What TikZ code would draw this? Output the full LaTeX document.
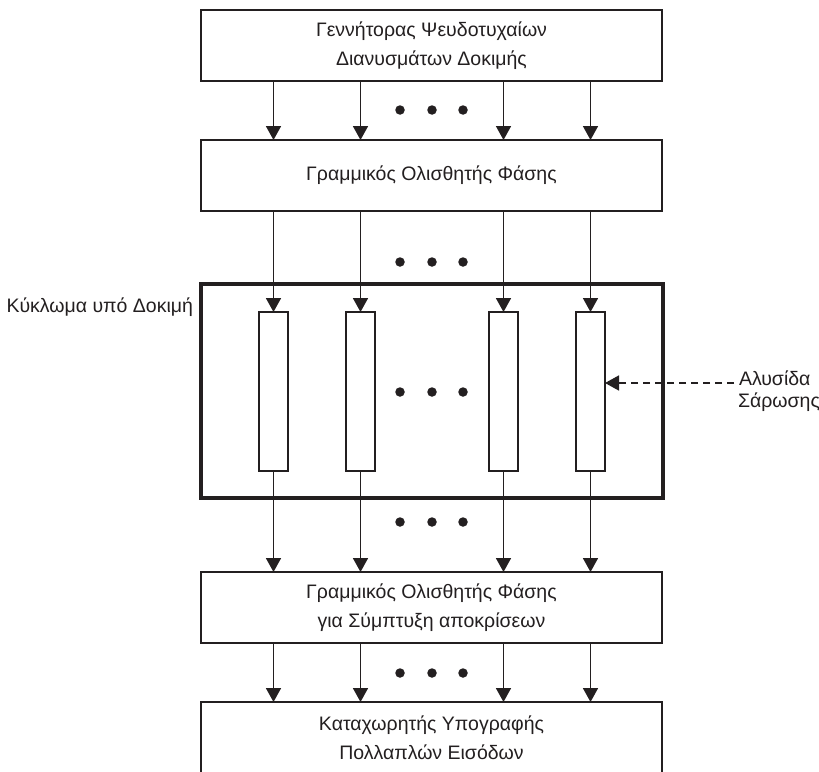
\documentclass[tikz,border=0pt]{standalone}
\usepackage{fontspec}
\setmainfont{Liberation Sans}
\usetikzlibrary{arrows.meta}
\definecolor{ink}{HTML}{231F20}
\begin{document}
\begin{tikzpicture}[x=1pt,y=-1pt,
  every node/.style={inner sep=0pt, outer sep=0pt, text=ink},
  blk/.style={draw=ink, line width=1.8pt, fill=white, minimum width=461pt, minimum height=71pt, align=center, font=\fontsize{19.5}{29.5}\selectfont},
  chain/.style={draw=ink, line width=1.6pt, fill=white, minimum width=29pt, minimum height=159pt},
  arr/.style={draw=ink, line width=1.7pt, -{Triangle[width=15pt,length=14pt]}},
  dsh/.style={draw=ink, line width=1.6pt, dash pattern=on 7pt off 5pt, -{Triangle[width=15pt,length=14pt]}},
  dot/.style={circle, fill=ink, minimum size=9.5pt},
  lbl/.style={font=\fontsize{19.5}{21.5}\selectfont}
]
\useasboundingbox (0,0) rectangle (819,771);
\fill[white] (0,0) rectangle (819,771);

% blocks
\node[blk] (gen) at (431.5,45.5) {Γεννήτορας Ψευδοτυχαίων\\Διανυσμάτων Δοκιμής};
\node[blk] (ps1) at (431.5,175.5) {Γραμμικός Ολισθητής Φάσης};
\node[draw=ink, line width=3.6pt, minimum width=462pt, minimum height=214pt] (dut) at (432,391) {};
\node[blk] (ps2) at (431.5,607.5) {Γραμμικός Ολισθητής Φάσης\\για Σύμπτυξη αποκρίσεων};
\node[blk] (misr) at (431.5,737.5) {Καταχωρητής Υπογραφής\\Πολλαπλών Εισόδων};

% scan chains
\node[chain] (c1) at (273.5,391.5) {};
\node[chain] (c2) at (360.5,391.5) {};
\node[chain] (c3) at (503.5,391.5) {};
\node[chain] (c4) at (590.5,391.5) {};

% arrows
\foreach \c in {c1,c2,c3,c4}{
  \draw[arr] (gen.south -| \c) -- (ps1.north -| \c);
  \draw[arr] (ps1.south -| \c) -- (\c.north);
  \draw[arr] (\c.south) -- (ps2.north -| \c);
  \draw[arr] (ps2.south -| \c) -- (misr.north -| \c);
}

% dots
\foreach \y/\n in {110/a,262/b,392/c,522/d,673/e}{
  \node[dot] (d\n1) at (400,\y) {};
  \node[dot] (d\n2) at (432,\y) {};
  \node[dot] (d\n3) at (463,\y) {};
}

% labels
\node[lbl, anchor=east] (dutl) at (193,307.5) {Κύκλωμα υπό Δοκιμή};
\node[lbl, align=left, anchor=west] (scl) at (738,391) {\hspace*{1pt}Αλυσίδα\\Σάρωσης};
\coordinate (ds) at (734,383);
\draw[dsh] (ds) -- (ds -| c4.east);
\end{tikzpicture}
\end{document}
